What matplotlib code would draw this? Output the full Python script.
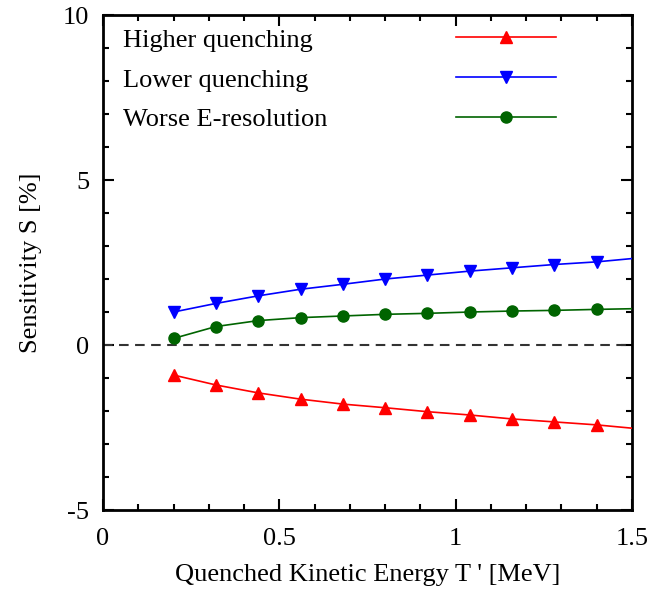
import numpy as np
import matplotlib
matplotlib.use('Agg')
import matplotlib.pyplot as plt
from matplotlib.ticker import MultipleLocator

plt.rcParams['font.family'] = ['Liberation Serif', 'DejaVu Serif']
plt.rcParams['axes.unicode_minus'] = False

# energies where markers sit, last point (1.5) is line end only
T = [0.2, 0.32, 0.44, 0.56, 0.68, 0.80, 0.92, 1.04, 1.16, 1.28, 1.40, 1.5]
higher_q = [-0.91, -1.21, -1.45, -1.64, -1.79, -1.90, -2.02, -2.12, -2.24, -2.33, -2.42, -2.52]
lower_q  = [1.00, 1.26, 1.49, 1.69, 1.84, 2.00, 2.12, 2.24, 2.34, 2.44, 2.52, 2.62]
worse_E  = [0.20, 0.56, 0.74, 0.83, 0.88, 0.93, 0.96, 1.00, 1.03, 1.05, 1.08, 1.10]
labels = ['Higher quenching', 'Lower quenching', 'Worse E-resolution']

fig = plt.figure(figsize=(6.69, 5.91), dpi=100)
ax = fig.add_axes([0.154, 0.137, 0.7907, 0.8376])

mk = list(range(len(T) - 1))
h1, = ax.plot(T, higher_q, color='red', lw=1.2, marker='^', ms=8.5, markevery=mk, zorder=3)
h2, = ax.plot(T, lower_q, color='blue', lw=1.2, marker='v', ms=8.5, markevery=mk, zorder=3)
h3, = ax.plot(T, worse_E, color='#006400', lw=1.2, marker='o', ms=8, markevery=mk, zorder=3)

ax.axhline(0, color='#333333', lw=1.5, ls=(0, (4.6, 3.1)), zorder=2)

ax.set_xlim(0, 1.5)
ax.set_ylim(-5, 10)
ax.set_xticks([0, 0.5, 1, 1.5])
ax.set_xticklabels(['0', '0.5', '1', '1.5'])
ax.xaxis.set_minor_locator(MultipleLocator(0.1))
ax.yaxis.set_major_locator(MultipleLocator(5))
ax.yaxis.set_minor_locator(MultipleLocator(1))
ax.tick_params(which='both', direction='in', top=True, right=True, width=1.5, labelsize=19)
ax.tick_params(which='major', length=8)
ax.tick_params(axis='x', which='major', pad=13)
ax.tick_params(axis='y', which='major', pad=10)
ax.tick_params(which='minor', length=4.5)
for s in ax.spines.values():
    s.set_linewidth(2)

ax.set_xlabel("Quenched Kinetic Energy T ' [MeV]", fontsize=19, labelpad=10)
ax.set_ylabel("Sensitivity S [%]", fontsize=19, labelpad=15)

# legend: texts left-aligned in one legend, line keys in another
inv = [plt.Line2D([], [], alpha=0) for _ in labels]
leg1 = ax.legend(inv, labels, loc='upper left', bbox_to_anchor=(0.0125, 1.0), frameon=False,
                 fontsize=19, handlelength=0, handletextpad=0, labelspacing=0.62,
                 borderaxespad=0.3, borderpad=0.2)
ax.add_artist(leg1)
ax.legend([h1, h2, h3], [' ', ' ', ' '], loc='upper left', bbox_to_anchor=(0.642, 1.0), frameon=False,
          fontsize=19, handlelength=3.8, handletextpad=0, labelspacing=0.62,
          borderaxespad=0.3, borderpad=0.2, markerfirst=True)

plt.savefig('out.png', dpi=100)
